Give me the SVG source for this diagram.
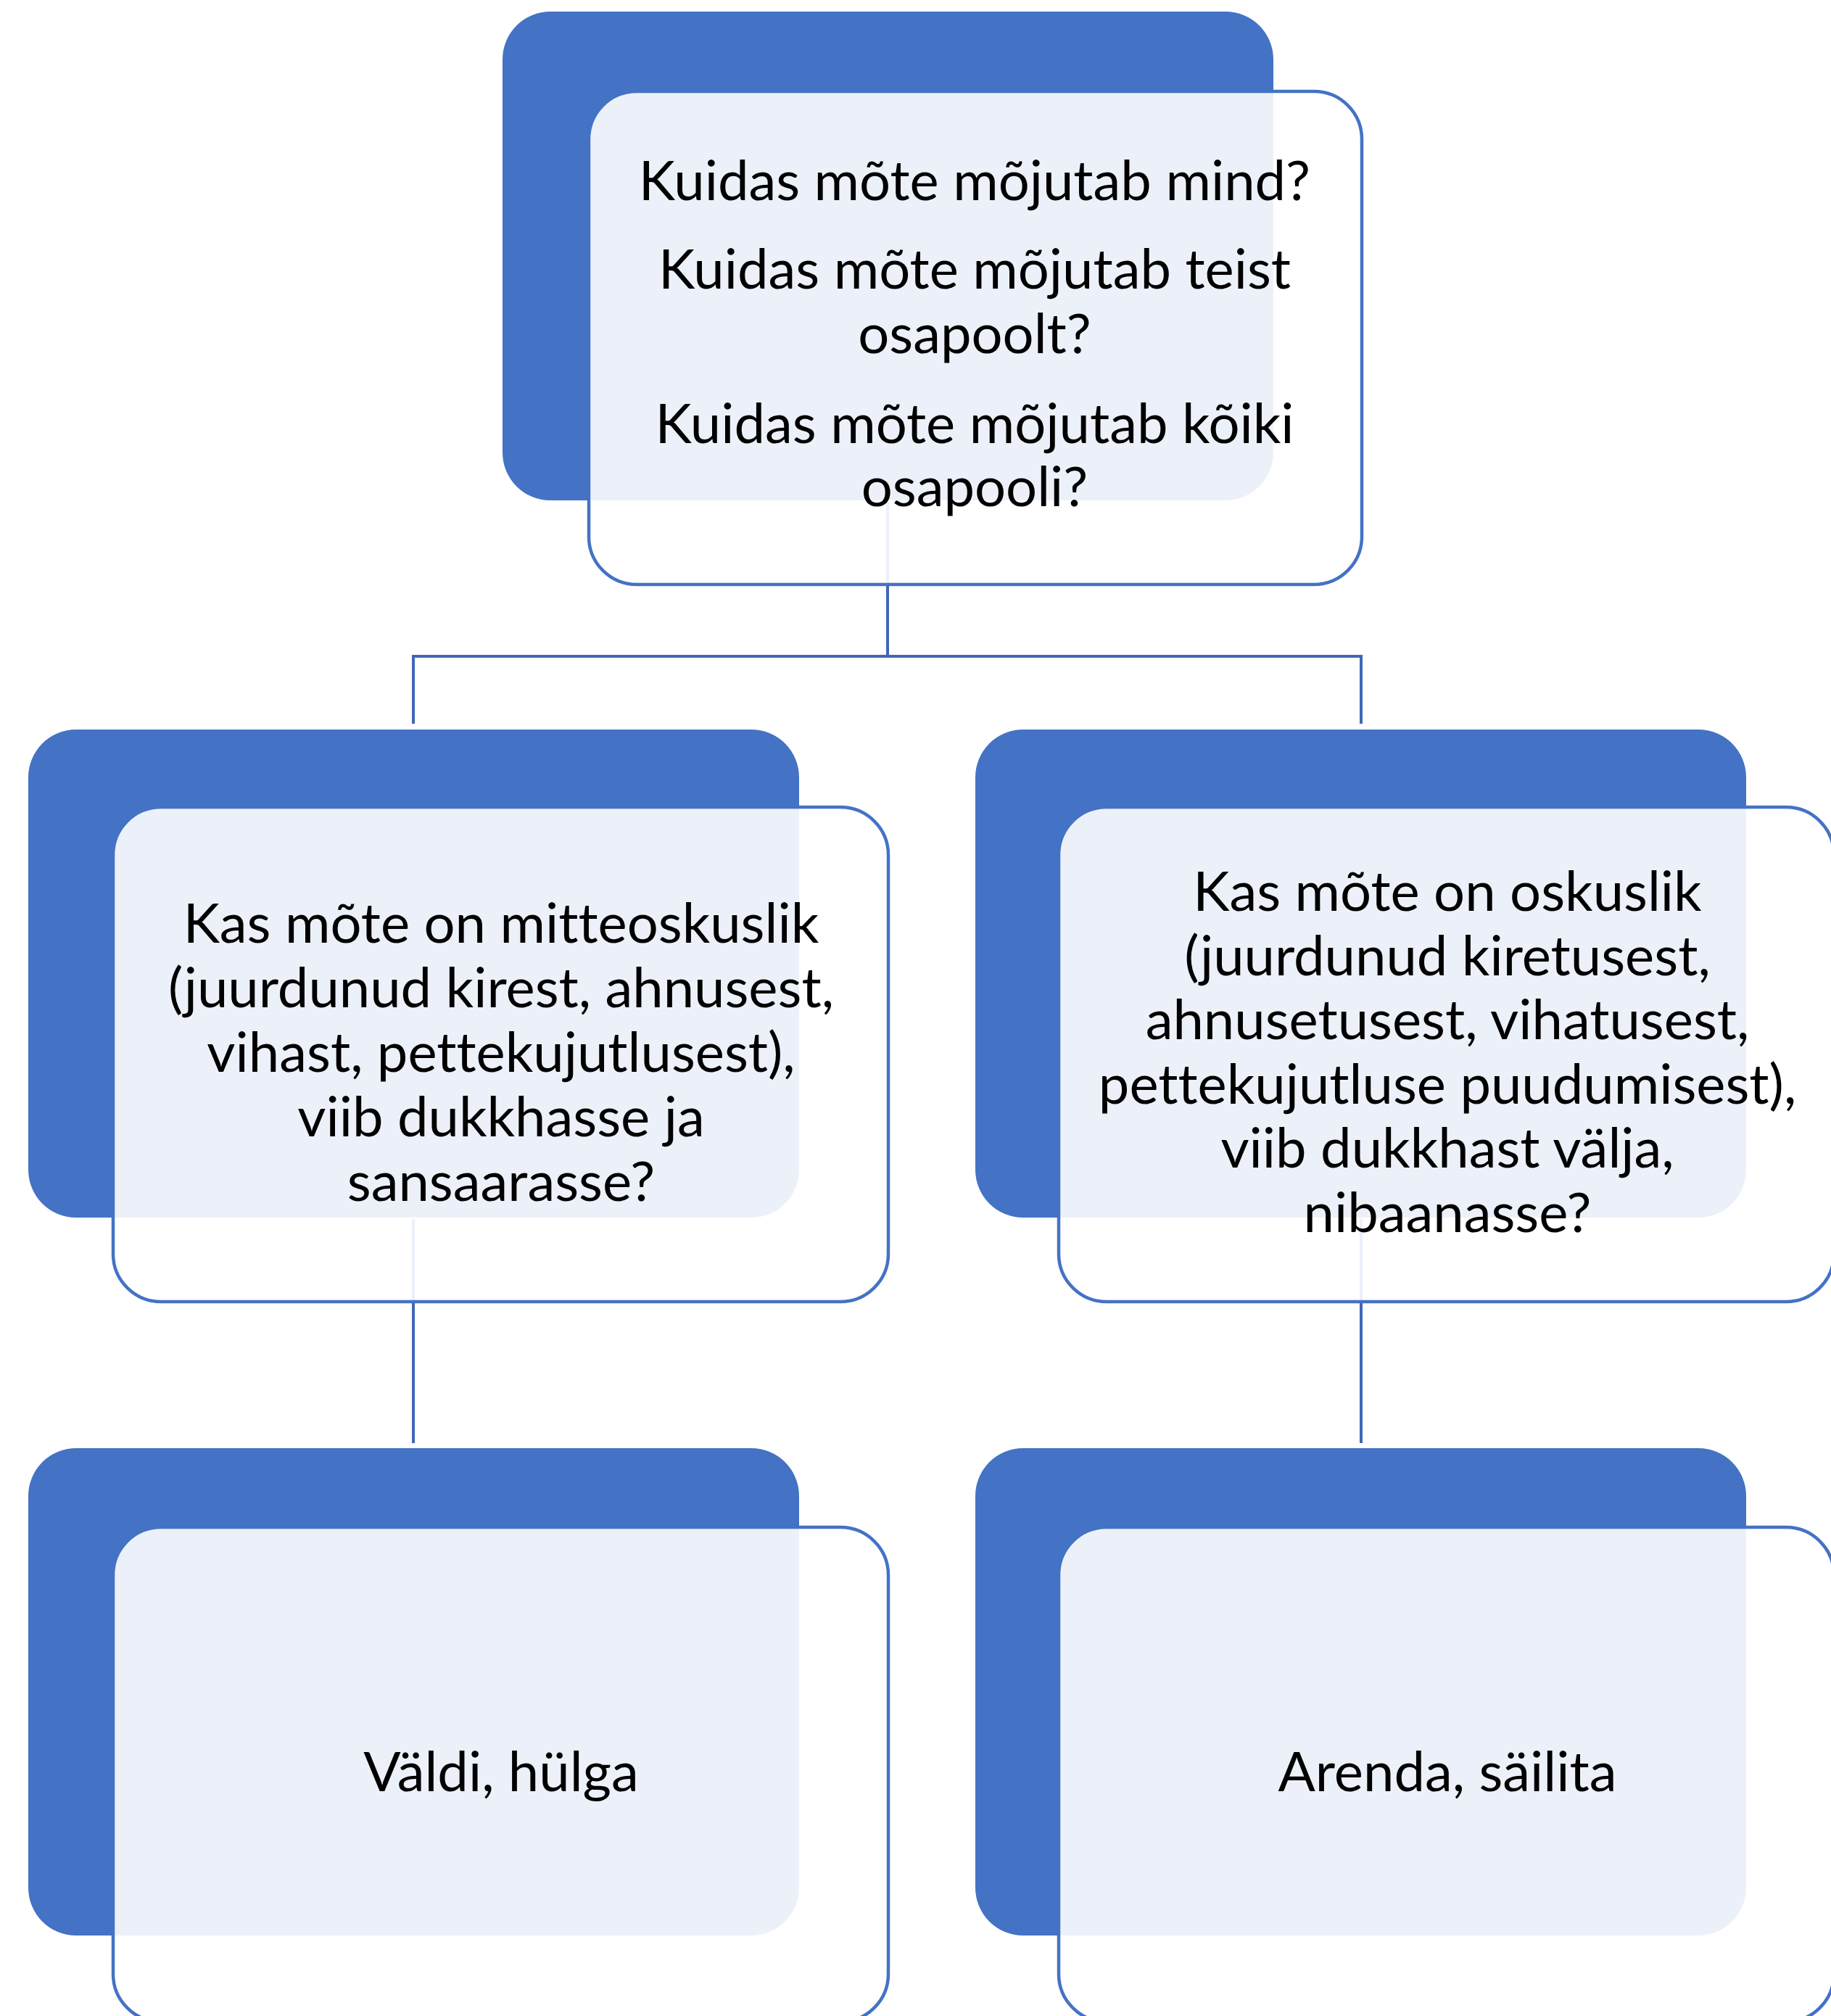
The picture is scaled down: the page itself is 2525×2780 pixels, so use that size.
<svg xmlns="http://www.w3.org/2000/svg" width="2525" height="2780" viewBox="0 0 2525 2780">
<style>
.back{fill:#4472C4;}
.front{fill:#FFFFFF;fill-opacity:0.9;stroke:#4472C4;stroke-width:4.5;}
.conn{fill:none;stroke:#3F68B6;stroke-width:4;}
.t{font-family:"Lato","Liberation Sans",sans-serif;font-size:76px;fill:#000000;text-anchor:middle;font-variant-ligatures:none;}
</style>
<rect width="2525" height="2780" fill="#FFFFFF"/>
<g id="connectors">
<path class="conn" d="M1224 692 V905 M570 905 H1877 M570 903 V998 M1877 903 V998"/>
<path class="conn" d="M570 1681 V1990"/>
<path class="conn" d="M1877 1681 V1990"/>
</g>
<g id="node-top">
<rect class="back" x="693" y="16" width="1063" height="674" rx="66" ry="66"/>
<rect class="front" x="812" y="126" width="1066" height="680" rx="66" ry="66"/>
<text class="t" x="1344" y="276">Kuidas mõte mõjutab mind?</text>
<text class="t" x="1344" y="398">Kuidas mõte mõjutab teist</text>
<text class="t" x="1344" y="487">osapoolt?</text>
<text class="t" x="1344" y="611">Kuidas mõte mõjutab kõiki</text>
<text class="t" x="1344" y="698">osapooli?</text>
</g>
<g id="node-mid-left">
<rect class="back" x="39" y="1006" width="1063" height="673" rx="66" ry="66"/>
<rect class="front" x="156" y="1113" width="1069" height="682" rx="66" ry="66"/>
<text class="t" x="691" y="1300">Kas mõte on mitteoskuslik</text>
<text class="t" x="691" y="1389">(juurdunud kirest, ahnusest,</text>
<text class="t" x="691" y="1478">vihast, pettekujutlusest),</text>
<text class="t" x="691" y="1567">viib dukkhasse ja</text>
<text class="t" x="691" y="1656">sansaarasse?</text>
</g>
<g id="node-mid-right">
<rect class="back" x="1345" y="1006" width="1063" height="673" rx="66" ry="66"/>
<rect class="front" x="1460" y="1113" width="1069" height="682" rx="66" ry="66"/>
<text class="t" x="1996" y="1256">Kas mõte on oskuslik</text>
<text class="t" x="1996" y="1345">(juurdunud kiretusest,</text>
<text class="t" x="1996" y="1433">ahnusetusest, vihatusest,</text>
<text class="t" x="1996" y="1522">pettekujutluse puudumisest),</text>
<text class="t" x="1996" y="1610">viib dukkhast välja,</text>
<text class="t" x="1996" y="1699">nibaanasse?</text>
</g>
<g id="node-bottom-left">
<rect class="back" x="39" y="1997" width="1063" height="672" rx="66" ry="66"/>
<rect class="front" x="156" y="2106" width="1069" height="682" rx="66" ry="66"/>
<text class="t" x="691" y="2470">Väldi, hülga</text>
</g>
<g id="node-bottom-right">
<rect class="back" x="1345" y="1997" width="1063" height="672" rx="66" ry="66"/>
<rect class="front" x="1460" y="2106" width="1069" height="682" rx="66" ry="66"/>
<text class="t" x="1996" y="2470">Arenda, säilita</text>
</g>
</svg>
